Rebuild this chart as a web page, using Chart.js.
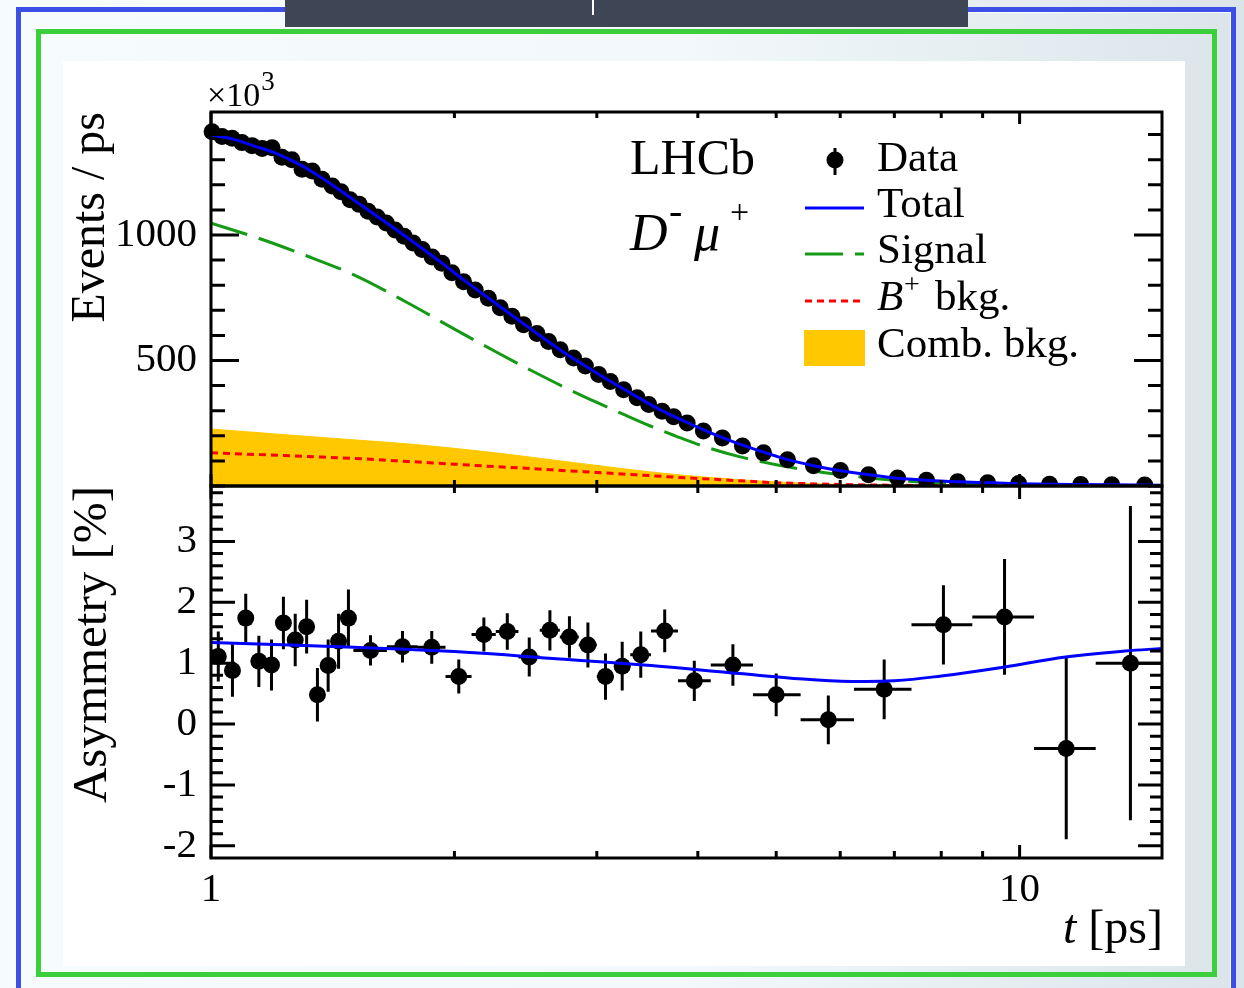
<!DOCTYPE html>
<html>
<head>
<meta charset="utf-8">
<script src="https://cdn.jsdelivr.net/npm/chart.js@4.4.1/dist/chart.umd.min.js"></script>
<style>
  html, body { margin: 0; padding: 0; }
  body {
    width: 1244px; height: 988px; overflow: hidden; position: relative;
    background: linear-gradient(90deg, #f6fbfd 0%, #f2f8fb 55%, #dbe5e9 100%);
  }
  #blueBox { position: absolute; left: 16px; top: 7px; width: 1220px; height: 1000px;
    box-sizing: border-box; border: 5px solid #3c4fe6; box-shadow: inset 0 0 0 1px rgba(255,255,255,0.8); }
  #greenBox { position: absolute; left: 36px; top: 29px; width: 1181px; height: 948px;
    box-sizing: border-box; border: 5px solid #3ccf3c; }
  #paper { position: absolute; left: 63px; top: 61px; width: 1122px; height: 905px; background: #fff; }
  #topBar { position: absolute; left: 285px; top: 0; width: 683px; height: 27px; background: #3e4554; }
  #topBar div { position: absolute; left: 307px; top: 0; width: 2px; height: 15px; background: #fff; }
  canvas { position: absolute; }
  #topC { left: 63px; top: 61px; }
  #botC { left: 63px; top: 470px; }
</style>
</head>
<body>
<div id="blueBox"></div>
<div id="topBar"><div></div></div>
<div id="greenBox"></div>
<div id="paper"></div>
<canvas id="topC" width="1122" height="437"></canvas>
<canvas id="botC" width="1122" height="496"></canvas>
<script>
// ---- top panel: events / ps (x10^3) ----
const tData = [1.003, 1.032, 1.062, 1.092, 1.124, 1.157, 1.190, 1.224, 1.259, 1.296,
  1.334, 1.372, 1.412, 1.448, 1.486, 1.525, 1.564, 1.605, 1.647, 1.689,
  1.733, 1.778, 1.825, 1.877, 1.930, 1.986, 2.053, 2.122, 2.203, 2.279,
  2.356, 2.435, 2.530, 2.615, 2.703, 2.808, 2.904, 3.016, 3.118, 3.238,
  3.365, 3.478, 3.613, 3.734, 3.880, 4.064, 4.290, 4.542, 4.823, 5.164,
  5.560, 6.004, 6.504, 7.064, 7.671, 8.381, 9.130, 9.972, 10.89, 11.90,
  13.00, 14.28];
const nData = [1411, 1392, 1385, 1368, 1356, 1345, 1348, 1310, 1300, 1262,
  1255, 1222, 1195, 1172, 1140, 1122, 1095, 1072, 1048, 1020,
  995, 968, 942, 912, 887, 850, 814, 781, 748, 710,
  676, 642, 608, 576, 543, 510, 478, 444, 416, 383,
  352, 325, 298, 276, 251, 219, 191, 159, 132, 105,
  81, 62, 45, 32, 23, 17, 13, 10, 7, 6,
  5, 4];

const tFit = [1.0, 1.065, 1.127, 1.193, 1.274, 1.364, 1.444, 1.529, 1.619, 1.714,
  1.814, 1.921, 2.051, 2.201, 2.351, 2.524, 2.703, 2.904, 3.117, 3.365,
  3.610, 3.879, 4.064, 4.290, 4.542, 4.823, 5.164, 5.560, 6.004, 6.504,
  7.064, 7.671, 8.381, 9.130, 9.972, 11.90, 15.0];
const totalFit = [1398, 1382, 1356, 1330, 1288, 1232, 1178, 1122, 1066, 1010,
  952, 893, 822, 750, 682, 610, 542, 478, 417, 355,
  300, 253, 224, 193, 163, 135, 105, 81, 61, 45,
  31, 23, 17, 13, 9, 5.6, 3.3];

const tComp = [1.0, 1.15, 1.3, 1.5, 1.75, 2.0, 2.25, 2.5, 2.75, 3.0,
  3.25, 3.5, 3.75, 4.0, 4.5, 5.0, 5.5, 6.0, 7.0, 8.0, 10.0, 12.0, 15.0];
const signalFit = [1047, 985, 922, 842, 730, 625, 535, 457, 390, 333,
  283, 238, 200, 166, 117, 85, 62, 45, 23, 12, 4, 1.5, 0.5];
const bplusBkg = [132, 125, 118, 110, 98, 87, 77, 69, 61, 54,
  47, 41, 35, 30, 21, 13, 9, 6, 3, 1.5, 0.5, 0.2, 0];
const combBkg = [227, 212, 199, 184, 168, 150, 132, 114, 97, 82,
  68, 56, 46, 38, 25, 16, 10, 6.5, 3, 1.5, 0.4, 0.1, 0];

// ---- bottom panel: asymmetry [%] ----
const tAsym = [1.021, 1.063, 1.104, 1.146, 1.188, 1.229, 1.271, 1.313, 1.354, 1.396,
  1.438, 1.479, 1.575, 1.725, 1.875, 2.025, 2.175, 2.325, 2.475, 2.625,
  2.775, 2.925, 3.075, 3.225, 3.40, 3.64, 3.96, 4.42, 5.00, 5.80,
  6.80, 8.05, 9.58, 11.42, 13.71];
const tAsymLo = [1.000, 1.042, 1.083, 1.125, 1.167, 1.208, 1.250, 1.292, 1.333, 1.375,
  1.417, 1.458, 1.50, 1.65, 1.80, 1.95, 2.10, 2.25, 2.40, 2.55,
  2.70, 2.85, 3.00, 3.15, 3.30, 3.50, 3.78, 4.15, 4.68, 5.36,
  6.24, 7.35, 8.74, 10.42, 12.42];
const tAsymHi = [1.042, 1.083, 1.125, 1.167, 1.208, 1.250, 1.292, 1.333, 1.375, 1.417,
  1.458, 1.500, 1.65, 1.80, 1.95, 2.10, 2.25, 2.40, 2.55, 2.70,
  2.85, 3.00, 3.15, 3.30, 3.50, 3.78, 4.15, 4.68, 5.36, 6.24,
  7.35, 8.74, 10.42, 12.42, 15.0];
const asym = [1.11, 0.88, 1.74, 1.03, 0.97, 1.66, 1.38, 1.60, 0.48, 0.96,
  1.36, 1.74, 1.21, 1.27, 1.26, 0.78, 1.47, 1.52, 1.10, 1.54,
  1.43, 1.30, 0.78, 0.95, 1.14, 1.53, 0.71, 0.97, 0.48, 0.07,
  0.57, 1.63, 1.76, -0.40, 1.00];
const asymErr = [0.41, 0.43, 0.40, 0.42, 0.42, 0.43, 0.43, 0.44, 0.44, 0.43,
  0.45, 0.47, 0.25, 0.26, 0.27, 0.28, 0.28, 0.30, 0.32, 0.33,
  0.34, 0.37, 0.38, 0.40, 0.38, 0.35, 0.33, 0.34, 0.35, 0.40,
  0.49, 0.65, 0.95, 1.49, 2.58];
const tAsymFit = [1.0, 1.5, 2.0, 2.7, 3.5, 4.5, 5.4, 6.2, 7.0, 8.0, 9.5, 11.4, 13.5, 15.0];
const asymFit = [1.34, 1.26, 1.19, 1.07, 0.96, 0.83, 0.74, 0.70, 0.71, 0.79, 0.93, 1.10, 1.20, 1.24];

// ---- ticks ----
const xTicks = [1, 2, 3, 4, 5, 6, 7, 8, 9, 10];
const xMajor = [1, 10];
const yTopTicks = [0, 100, 200, 300, 400, 500, 600, 700, 800, 900, 1000, 1100, 1200, 1300, 1400];
const yTopMajor = [500, 1000];
const yBotTicks = [-2, -1.8, -1.6, -1.4, -1.2, -1, -0.8, -0.6, -0.4, -0.2, 0, 0.2, 0.4, 0.6, 0.8,
  1, 1.2, 1.4, 1.6, 1.8, 2, 2.2, 2.4, 2.6, 2.8, 3, 3.2, 3.4, 3.6, 3.8];
const yBotMajor = [-2, -1, 0, 1, 2, 3];

const FONT = '"Liberation Serif", "Times New Roman", serif';
const BLUE = "#0000ff", GREEN = "#149a14", RED = "#ff0000", YELLOW = "#ffc800";

const pts = (xs, ys) => xs.map((x, i) => ({ x: x, y: ys[i] }));

// ROOT style frame with inward ticks on all four sides
function frameTicks(o) {
  return {
    id: "frameTicks",
    afterDatasetsDraw(chart) {
      const { ctx, chartArea: a } = chart;
      const x = chart.scales.x, y = chart.scales.y;
      ctx.save();
      ctx.strokeStyle = "#000";
      ctx.lineWidth = 3;
      ctx.beginPath();
      xTicks.forEach((v) => {
        const p = x.getPixelForValue(v);
        const len = xMajor.includes(v) ? o.xMajorLen : o.xMinorLen;
        ctx.moveTo(p, a.top); ctx.lineTo(p, a.top + len);
        ctx.moveTo(p, a.bottom); ctx.lineTo(p, a.bottom - len);
      });
      o.yTicks.forEach((v) => {
        const p = y.getPixelForValue(v);
        const len = o.yMajor.includes(v) ? o.yMajorLen : o.yMinorLen;
        ctx.moveTo(a.left, p); ctx.lineTo(a.left + len, p);
        ctx.moveTo(a.right, p); ctx.lineTo(a.right - len, p);
      });
      ctx.stroke();
      ctx.strokeRect(a.left, a.top, a.right - a.left, a.bottom - a.top);
      ctx.restore();
    },
  };
}

function yAxis(min, max, ticks, major, width) {
  return {
    type: "linear", position: "left", min: min, max: max,
    grid: { display: false }, border: { display: false },
    afterBuildTicks: (s) => { s.ticks = ticks.map((v) => ({ value: v })); },
    afterFit: (s) => { s.width = width; s.paddingTop = 0; s.paddingBottom = 0; },
    ticks: {
      autoSkip: false, padding: 6, color: "#000",
      font: { family: FONT, size: 41 },
      callback: (v) => (major.includes(v) ? String(v) : ""),
    },
  };
}

// texts of the top panel: axis title, LHCb label and legend
const topTexts = {
  id: "topTexts",
  afterDraw(chart) {
    const ctx = chart.ctx;
    ctx.save();
    ctx.fillStyle = "#000";
    ctx.textBaseline = "alphabetic";

    ctx.save();
    ctx.translate(41, 51);
    ctx.rotate(-Math.PI / 2);
    ctx.textAlign = "right";
    ctx.font = "48px " + FONT;
    ctx.fillText("Events / ps", 0, 0);
    ctx.restore();

    ctx.textAlign = "left";
    ctx.font = "34px " + FONT;
    ctx.fillText("\u00d710", 144, 45);
    const w10 = ctx.measureText("\u00d710").width;
    ctx.font = "27px " + FONT;
    ctx.fillText("3", 144 + w10 + 1, 29);

    ctx.font = "50px " + FONT;
    ctx.fillText("LHCb", 567, 113);
    ctx.font = "italic 52px " + FONT;
    ctx.fillText("D", 567, 189);
    ctx.font = "40px " + FONT;
    ctx.fillText("-", 606, 163);
    ctx.font = "italic 52px " + FONT;
    ctx.fillText("\u03bc", 631, 189);
    ctx.font = "34px " + FONT;
    ctx.fillText("+", 667, 162);

    // legend
    ctx.strokeStyle = "#000";
    ctx.lineWidth = 3;
    ctx.beginPath();
    ctx.moveTo(772, 87); ctx.lineTo(772, 114);
    ctx.stroke();
    ctx.beginPath();
    ctx.arc(772, 99, 8.5, 0, 2 * Math.PI);
    ctx.fill();

    ctx.strokeStyle = BLUE;
    ctx.beginPath(); ctx.moveTo(742, 147); ctx.lineTo(801, 147); ctx.stroke();
    ctx.strokeStyle = GREEN;
    ctx.setLineDash([38, 12]);
    ctx.beginPath(); ctx.moveTo(742, 193); ctx.lineTo(801, 193); ctx.stroke();
    ctx.strokeStyle = RED;
    ctx.setLineDash([7, 5]);
    ctx.beginPath(); ctx.moveTo(742, 240); ctx.lineTo(799, 240); ctx.stroke();
    ctx.setLineDash([]);
    ctx.fillStyle = YELLOW;
    ctx.fillRect(741, 269, 61, 36);

    ctx.fillStyle = "#000";
    ctx.font = "43px " + FONT;
    ctx.fillText("Data", 814, 110);
    ctx.fillText("Total", 814, 156);
    ctx.fillText("Signal", 814, 202);
    ctx.font = "italic 43px " + FONT;
    ctx.fillText("B", 814, 249);
    ctx.font = "28px " + FONT;
    ctx.fillText("+", 841, 232);
    ctx.font = "43px " + FONT;
    ctx.fillText("bkg.", 872, 249);
    ctx.fillText("Comb. bkg.", 814, 296);
    ctx.restore();
  },
};

const bottomTexts = {
  id: "bottomTexts",
  afterDraw(chart) {
    const ctx = chart.ctx;
    ctx.save();
    ctx.fillStyle = "#000";
    ctx.save();
    ctx.translate(43, 16);
    ctx.rotate(-Math.PI / 2);
    ctx.textAlign = "right";
    ctx.font = "49px " + FONT;
    ctx.fillText("Asymmetry [%]", 0, 0);
    ctx.restore();

    ctx.textAlign = "right";
    ctx.font = "48px " + FONT;
    ctx.fillText("[ps]", 1100, 473);
    const w = ctx.measureText(" [ps]").width;
    ctx.font = "italic 48px " + FONT;
    ctx.fillText("t", 1100 - w, 473);
    ctx.restore();
  },
};

const errorBars = {
  id: "errorBars",
  beforeDatasetsDraw(chart) {
    const { ctx } = chart;
    const x = chart.scales.x, y = chart.scales.y;
    ctx.save();
    ctx.strokeStyle = "#000";
    ctx.lineWidth = 3;
    ctx.beginPath();
    tAsym.forEach((t, i) => {
      const px = x.getPixelForValue(t);
      const py = y.getPixelForValue(asym[i]);
      ctx.moveTo(px, y.getPixelForValue(asym[i] + asymErr[i]));
      ctx.lineTo(px, y.getPixelForValue(asym[i] - asymErr[i]));
      ctx.moveTo(x.getPixelForValue(tAsymLo[i]), py);
      ctx.lineTo(x.getPixelForValue(tAsymHi[i]), py);
    });
    ctx.stroke();
    ctx.restore();
  },
};

const common = {
  responsive: false,
  animation: false,
  devicePixelRatio: 1,
  events: [],
  plugins: { legend: { display: false }, tooltip: { enabled: false } },
};

new Chart(document.getElementById("topC"), {
  type: "line",
  data: {
    datasets: [
      { label: "Total", data: pts(tFit, totalFit), borderColor: BLUE, borderWidth: 3,
        pointRadius: 0, cubicInterpolationMode: "monotone" },
      { label: "Data", data: pts(tData, nData), showLine: false, pointRadius: 8.5,
        pointBackgroundColor: "#000", pointBorderWidth: 0,
        clip: { left: false, top: false, right: false, bottom: 0 } },
      { label: "Signal", data: pts(tComp, signalFit), borderColor: GREEN, borderWidth: 3,
        borderDash: [38, 12], pointRadius: 0, cubicInterpolationMode: "monotone" },
      { label: "B+ bkg.", data: pts(tComp, bplusBkg), borderColor: RED, borderWidth: 3,
        borderDash: [7, 5], pointRadius: 0, cubicInterpolationMode: "monotone" },
      { label: "Comb. bkg.", data: pts(tComp, combBkg), borderColor: YELLOW, borderWidth: 1,
        backgroundColor: YELLOW, fill: "origin", pointRadius: 0, cubicInterpolationMode: "monotone" },
    ],
  },
  options: Object.assign({}, common, {
    layout: { padding: { left: 0, top: 51, right: 23, bottom: 12 } },
    scales: {
      x: { type: "logarithmic", min: 1, max: 15, display: false },
      y: yAxis(0, 1490, yTopTicks, yTopMajor, 148),
    },
  }),
  plugins: [frameTicks({ xMajorLen: 12, xMinorLen: 6, yTicks: yTopTicks, yMajor: yTopMajor,
    yMajorLen: 28, yMinorLen: 14 }), topTexts],
});

new Chart(document.getElementById("botC"), {
  type: "line",
  data: {
    datasets: [
      { label: "Fit", data: pts(tAsymFit, asymFit), borderColor: BLUE, borderWidth: 3,
        pointRadius: 0, tension: 0.4 },
      { label: "Data", data: pts(tAsym, asym), showLine: false, pointRadius: 8.5,
        pointBackgroundColor: "#000", pointBorderWidth: 0 },
    ],
  },
  options: Object.assign({}, common, {
    layout: { padding: { left: 0, top: 16, right: 23, bottom: 0 } },
    scales: {
      x: {
        type: "logarithmic", min: 1, max: 15,
        grid: { display: false }, border: { display: false },
        afterBuildTicks: (s) => { s.ticks = xTicks.map((v) => ({ value: v })); },
        afterFit: (s) => { s.height = 108; s.paddingLeft = 0; s.paddingRight = 0; },
        ticks: {
          autoSkip: false, maxRotation: 0, minRotation: 0, padding: 0, color: "#000",
          font: { family: FONT, size: 41 },
          callback: (v) => (xMajor.includes(v) ? String(v) : ""),
        },
      },
      y: yAxis(-2.2, 3.91, yBotTicks, yBotMajor, 148),
    },
  }),
  plugins: [errorBars, frameTicks({ xMajorLen: 13, xMinorLen: 7, yTicks: yBotTicks, yMajor: yBotMajor,
    yMajorLen: 24, yMinorLen: 12 }), bottomTexts],
});
</script>
</body>
</html>
